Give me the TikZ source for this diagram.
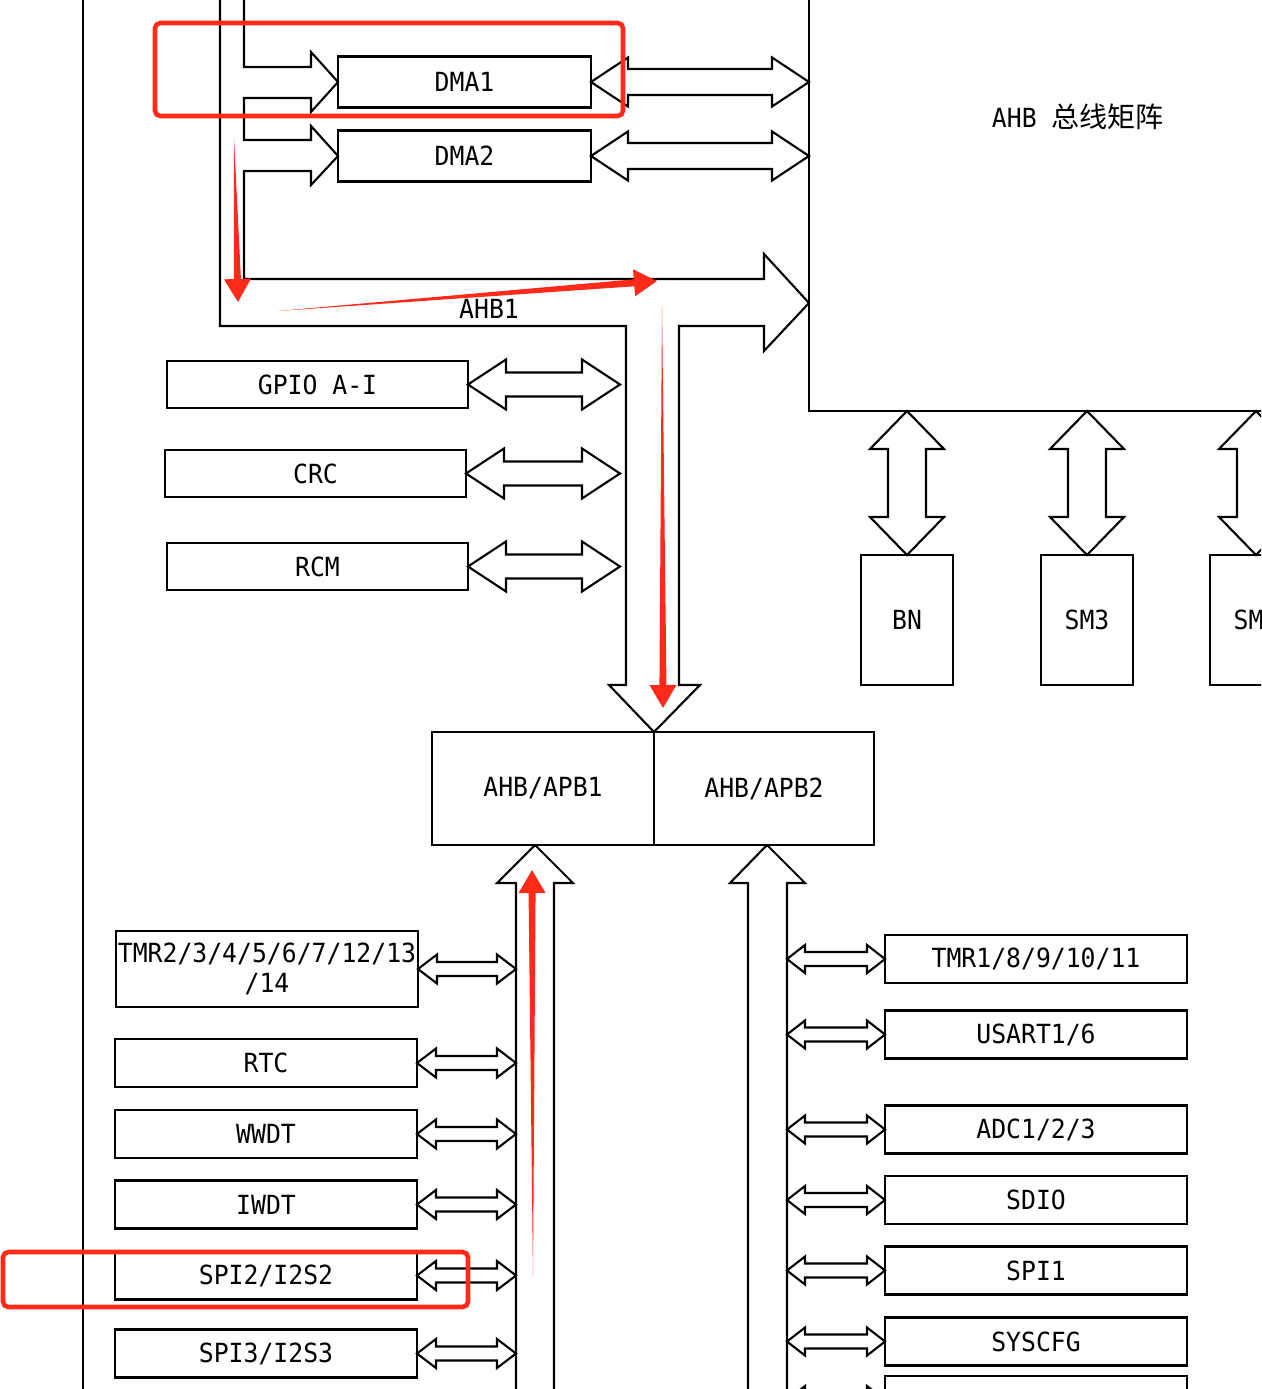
\documentclass[tikz,border=0pt]{standalone}
\usepackage{fontspec}
\usetikzlibrary{calc}
\newfontfamily\lab[FakeStretch=0.94]{DejaVu Sans Mono}
\newfontfamily\cjk{Noto Sans CJK SC}
\definecolor{redmark}{HTML}{FF2A1A}
\tikzset{
    bus/.style={line width=1.2pt, line join=miter},
    blk/.style={draw, line width=1.2pt, minimum width=6.04cm, minimum height=0.96cm,
        font=\lab\fontsize{15}{17}\selectfont, align=center},
    annot/.style={draw=redmark, line width=2.6pt, rounded corners=3pt}
}
% double arrow, left/top tip, right/bottom tip, head half, shaft half, head length
\newcommand{\hdual}[5]{%
    \draw[bus] (#1) -- ++(#5,-#3) -- ++(0,#3-#4) -- ($(#2)+(-#5,-#4)$) -- ++(0,#4-#3) -- (#2)
        -- ++(-#5,#3) -- ++(0,#4-#3) -- ($(#1)+(#5,#4)$) -- ++(0,#3-#4) -- cycle;}
\newcommand{\vdual}[5]{%
    \draw[bus] (#1) -- ++(-#3,#5) -- ++(#3-#4,0) -- ($(#2)+(-#4,-#5)$) -- ++(#4-#3,0) -- (#2)
        -- ++(#3,-#5) -- ++(#4-#3,0) -- ($(#1)+(#4,#5)$) -- ++(#3-#4,0) -- cycle;}
% red marker arrow, tail, tip
\newcommand{\brush}[2]{%
    \path ($(#2)!0.46cm!(#1)$) coordinate (hb);
    \fill[fill=redmark] (#1) -- ($(hb)!0.07cm!90:(#1)$) -- ($(hb)!0.27cm!90:(#1)$) -- (#2)
        -- ($(hb)!0.27cm!-90:(#1)$) -- ($(hb)!0.07cm!-90:(#1)$) -- cycle;}

\begin{document}
\begin{tikzpicture}[x=0.02cm,y=-0.02cm,every node/.style={inner sep=0,outer sep=0}]
\useasboundingbox (0,0) rectangle (1261,1389);
\clip (0,0) rectangle (1261,1389);
% Bus points
\coordinate (mat) at (809,0);
\coordinate (matb) at (0,411);
\coordinate (b0) at (620,0);
\coordinate (b1) at (516,0);
\coordinate (b2) at (787,0);
% DMA
\node[blk, minimum width=5.06cm, minimum height=1.02cm] (dma1) at (464.5,82) {DMA1};
\node[blk, minimum width=5.06cm, minimum height=1.02cm] (dma2) at (464.5,156) {DMA2};
% AHB1 devices
\node[blk, minimum width=6.02cm, minimum height=0.94cm] (gpio) at (317.5,384.5) {GPIO A-I};
\node[blk, minimum width=6.02cm, minimum height=0.94cm] (crc) at (315.5,473.5) {CRC};
\node[blk, minimum width=6.02cm, minimum height=0.94cm] (rcm) at (317.5,566.5) {RCM};
% Matrix slaves
\node[blk, minimum width=1.84cm, minimum height=2.6cm] (bn) at (907,620) {BN};
\node[blk, minimum width=1.84cm, minimum height=2.6cm] (sm3) at (1087,620) {SM3};
\node[blk, minimum width=1.84cm, minimum height=2.6cm] (sm4) at (1256,620) {SM4};
% Bridges
\node[blk, minimum width=4.44cm, minimum height=2.26cm] (apb1) at (543,788.5) {AHB/APB1};
\node[blk, minimum width=4.40cm, minimum height=2.26cm] (apb2) at (764,788.5) {AHB/APB2};
% APB1
\node[blk, minimum height=1.52cm] (tmr2) at (267,969) {TMR2/3/4/5/6/7/12/13\\/14};
\node[blk] (rtc) at (266,1063) {RTC};
\node[blk] (wwdt) at (266,1134) {WWDT};
\node[blk] (iwdt) at (266,1204.5) {IWDT};
\node[blk] (spi2) at (266,1275.5) {SPI2/I2S2};
\node[blk] (spi3) at (266,1353.5) {SPI3/I2S3};
% APB2
\node[blk] (tmr1) at (1036,959) {TMR1/8/9/10/11};
\node[blk] (usart) at (1036,1034.5) {USART1/6};
\node[blk] (adc) at (1036,1129.5) {ADC1/2/3};
\node[blk] (sdio) at (1036,1200) {SDIO};
\node[blk] (spi1) at (1036,1270.5) {SPI1};
\node[blk] (syscfg) at (1036,1341.5) {SYSCFG};
\node[blk] (more) at (1036,1400) {};
% Outer frame
\draw[bus] (83,0) -- (83,1389);
% Matrix
\draw[bus] (mat) -- (mat |- matb) -- (1270,411);
\node[font=\lab\fontsize{15}{17}\selectfont] (matlbl) at (1078,117) {AHB {\cjk\fontsize{16}{18}\selectfont 总线矩阵}};
%% AHB1
\draw[bus] (220,0) -- (220,326) -- (626,326) -- (626,685) -- (609,685) -- (654,732) -- (700,685)
    -- (679,685) -- (679,326) -- (764,326) -- (764,351) -- (mat |- 0,303) -- (764,254) -- (764,279)
    -- (244,279) -- (244,171) -- (311,171) -- (311,185) -- (dma2.west) -- (311,126) -- (311,140)
    -- (244,140) -- (244,98) -- (311,98) -- (311,112) -- (dma1.west) -- (311,52) -- (311,67)
    -- (244,67) -- (244,0);
\node[font=\lab\fontsize{15}{17}\selectfont] (ahblbl) at (489,309) {AHB1};
% APB buses
\draw[bus] (b1 |- 0,1395) -- (b1 |- 0,883) -- (497,883) -- (535,845) -- (573,883) -- (554,883) -- (554,1395);
\draw[bus] (748,1395) -- (748,883) -- (730,883) -- (767,845) -- (805,883) -- (b2 |- 0,883) -- (b2 |- 0,1395);
% Links
\foreach \n in {dma1,dma2} \hdual{\n.east}{\n.east -| mat}{24.5}{13}{37};
\foreach \n in {gpio,crc,rcm} \hdual{\n.east}{\n.east -| b0}{25}{12}{38};
\foreach \n in {bn,sm3,sm4} \vdual{\n.north |- matb}{\n.north}{37}{19}{38};
\foreach \n in {tmr2,rtc,wwdt,iwdt,spi2,spi3} \hdual{\n.east}{\n.east -| b1}{14.5}{7}{19};
\foreach \n in {tmr1,usart,adc,sdio,spi1,syscfg,more} \hdual{\n.west -| b2}{\n.west}{14}{7}{18};
% Marks
\draw[annot] (155,23) rectangle (623,116);
\draw[annot] (3,1252) rectangle (468,1307);
\coordinate (r1a) at (234,138);  \coordinate (r1b) at (238,302);
\coordinate (r2a) at (278,311);  \coordinate (r2b) at (657,281);
\coordinate (r3a) at (662,305);  \coordinate (r3b) at (663,708);
\coordinate (r4a) at (533,1277); \coordinate (r4b) at (532,870);
\brush{r1a}{r1b}
\brush{r2a}{r2b}
\brush{r3a}{r3b}
\brush{r4a}{r4b}
\end{tikzpicture}
\end{document}
